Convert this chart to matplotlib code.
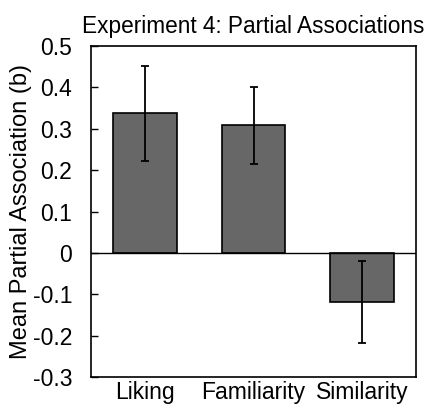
import numpy as np
import matplotlib
matplotlib.use("Agg")
import matplotlib.pyplot as plt

plt.rcParams['font.family'] = ['Liberation Sans', 'DejaVu Sans']

# data
categories = ["Liking", "Familiarity", "Similarity"]
means = [0.337, 0.308, -0.119]
errors = [0.114, 0.092, 0.100]
yticks = [0.5, 0.4, 0.3, 0.2, 0.1, 0, -0.1, -0.2, -0.3]
ytick_labels = ["0.5", "0.4", "0.3", "0.2", "0.1", "0", "-0.1", "-0.2", "-0.3"]

fig = plt.figure(figsize=(4.30, 4.04), dpi=100)
ax = fig.add_axes([91/430, 1 - 377/404, 325/430, 331/404])

x = np.arange(len(categories))
ax.bar(x, means, width=0.59, color="#676767", edgecolor="black", linewidth=1.2,
       yerr=errors, error_kw=dict(ecolor="black", elinewidth=1.3, capsize=2.7, capthick=1.3))
ax.axhline(0, color="black", linewidth=1.0)

ax.set_xlim(-0.5, 2.5)
ax.set_ylim(-0.3, 0.5)
ax.set_yticks(yticks)
ax.set_yticklabels(ytick_labels, fontsize=16.5)
ax.set_xticks(x)
ax.set_xticklabels(categories, fontsize=16.5)
ax.tick_params(axis='y', direction='in', length=5, width=1, pad=13.5)
ax.tick_params(axis='x', length=0, pad=3)
for s in ax.spines.values():
    s.set_linewidth(1.2)

ax.set_ylabel("Mean Partial Association (b)", fontsize=17)
ax.yaxis.set_label_coords(-0.182, 0.5)
ax.set_title("Experiment 4: Partial Associations", fontsize=16.3, pad=9.5)

fig.savefig("out.png", dpi=100)
